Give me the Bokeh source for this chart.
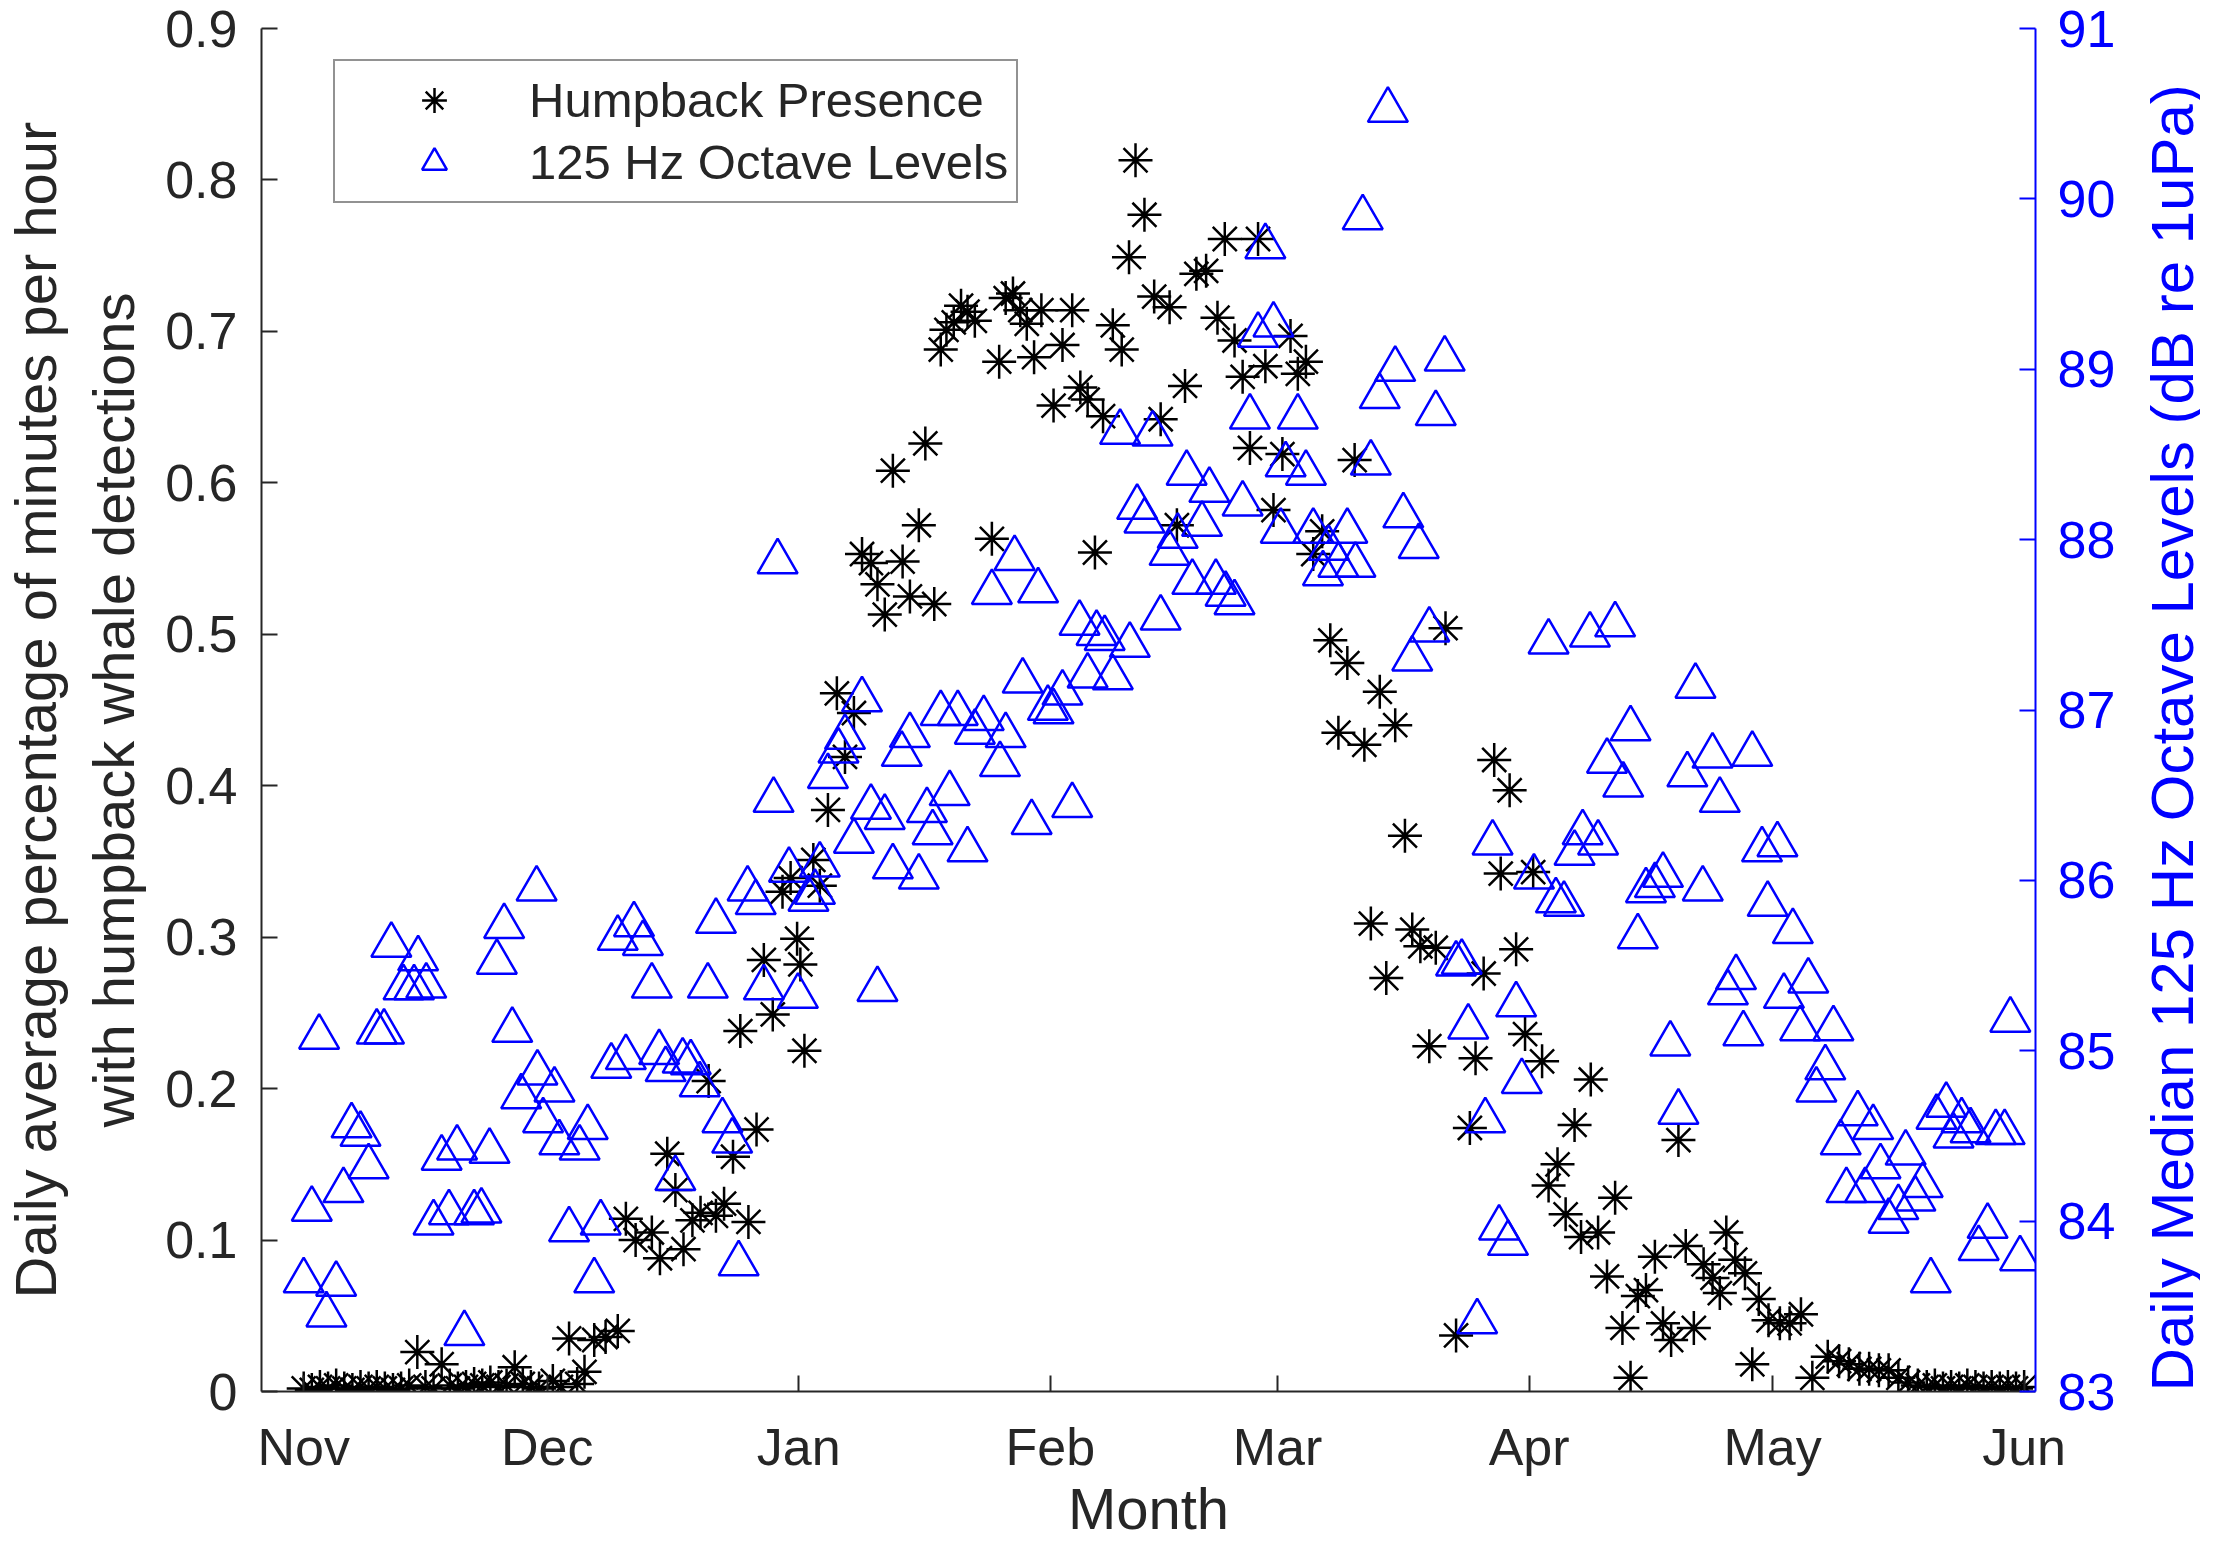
import math
from bokeh.plotting import figure
from bokeh.models import (LinearAxis, Range1d, FixedTicker, CustomJSTickFormatter,
                          Legend, LegendItem)
from bokeh.embed import file_html
from bokeh.resources import INLINE

# ---------------- data ----------------
month_ticks = [0, 30, 61, 92, 120, 151, 181, 212]          # days since 1 Nov
month_labels = ["Nov", "Dec", "Jan", "Feb", "Mar", "Apr", "May", "Jun"]
left_ticks = [0, 0.1, 0.2, 0.3, 0.4, 0.5, 0.6, 0.7, 0.8, 0.9]
right_ticks = [83, 84, 85, 86, 87, 88, 89, 90, 91]

# Humpback presence (daily average fraction of minutes per hour)
star_day = [0, 1, 2, 3, 4, 5, 6, 7, 8, 9,
            10, 11, 12, 13, 14, 15, 16, 17, 18, 19,
            20, 21, 22, 23, 24, 25, 26, 27, 28, 29,
            30.7, 31.7, 32.7, 33.7, 34.6, 35.8, 37.2, 38.7, 39.7, 40.9,
            42.9, 43.9, 44.8, 45.8, 46.8, 47.9, 48.9, 49.9, 50.8, 51.8,
            52.9, 53.8, 54.8, 55.8, 56.7, 57.8, 59.0, 60.0, 60.8, 61.2,
            61.7, 62.8, 63.6, 64.6, 65.7, 66.7, 67.8, 68.8, 69.9, 70.7,
            71.6, 72.6, 73.8, 74.7, 75.8, 76.6, 77.7, 78.5, 79.2, 80.1,
            81.0, 81.8, 82.7, 84.8, 85.7, 86.5, 87.4, 88.3, 89.1, 90.0,
            90.9, 92.4, 93.5, 94.7, 95.7, 96.6, 97.5, 98.5, 99.7, 100.8,
            101.7, 102.5, 103.6, 104.8, 105.6, 106.7, 107.6, 108.6, 110.0, 111.2,
            112.6, 113.5, 114.7, 115.7, 116.6, 117.6, 118.5, 119.5, 120.6, 121.6,
            122.5, 123.5, 124.4, 125.5, 126.5, 127.5, 128.6, 129.5, 130.7, 131.5,
            132.6, 133.4, 134.5, 135.7, 136.6, 137.6, 138.7, 139.5, 140.7, 142.0,
            143.7, 144.4, 145.4, 146.7, 147.5, 148.6, 149.4, 150.5, 151.5, 152.6,
            153.4, 154.5, 155.5, 156.6, 157.4, 158.6, 159.5, 160.6, 161.6, 162.5,
            163.5, 164.4, 165.4, 166.5, 167.5, 168.5, 169.4, 170.3, 171.3, 172.5,
            173.6, 174.5, 175.3, 176.4, 177.6, 178.5, 179.3, 180.5, 181.9, 183.1,
            184.5, 185.9, 187.8, 189.2, 190.4, 191.7, 192.9, 194.1, 195.3, 196.5,
            197.7, 198.9, 200.0, 201.0, 202.0, 203.0, 204.0, 205.0, 206.0, 207.0,
            208.0, 209.0, 210.0, 211.0, 212.0]
star_val = [0.002, 0.001, 0.003, 0.002, 0.004, 0.002, 0.001, 0.003, 0.002, 0.003,
            0.002, 0.001, 0.002, 0.004, 0.026, 0.003, 0.002, 0.018, 0.004, 0.002,
            0.003, 0.005, 0.004, 0.006, 0.003, 0.004, 0.016, 0.005, 0.003, 0.002,
            0.007, 0.003, 0.035, 0.005, 0.013, 0.034, 0.036, 0.040, 0.114, 0.100,
            0.105, 0.088, 0.157, 0.133, 0.094, 0.113, 0.118, 0.205, 0.116, 0.124,
            0.155, 0.238, 0.112, 0.173, 0.285, 0.249, 0.330, 0.339, 0.299, 0.282,
            0.225, 0.351, 0.334, 0.384, 0.461, 0.419, 0.448, 0.553, 0.547, 0.533,
            0.513, 0.608, 0.548, 0.525, 0.572, 0.626, 0.520, 0.688, 0.701, 0.706,
            0.717, 0.713, 0.707, 0.563, 0.680, 0.722, 0.725, 0.714, 0.705, 0.683,
            0.714, 0.651, 0.691, 0.714, 0.663, 0.655, 0.554, 0.644, 0.704, 0.688,
            0.749, 0.813, 0.777, 0.723, 0.642, 0.716, 0.572, 0.664, 0.738, 0.740,
            0.709, 0.761, 0.694, 0.670, 0.623, 0.761, 0.677, 0.582, 0.619, 0.697,
            0.672, 0.680, 0.553, 0.568, 0.496, 0.435, 0.481, 0.615, 0.427, 0.309,
            0.462, 0.273, 0.440, 0.367, 0.305, 0.294, 0.228, 0.293, 0.504, 0.037,
            0.174, 0.220, 0.276, 0.417, 0.342, 0.397, 0.292, 0.236, 0.343, 0.218,
            0.136, 0.150, 0.117, 0.176, 0.102, 0.206, 0.105, 0.076, 0.128, 0.042,
            0.009, 0.063, 0.067, 0.089, 0.045, 0.034, 0.166, 0.096, 0.042, 0.084,
            0.075, 0.065, 0.105, 0.087, 0.078, 0.018, 0.061, 0.047, 0.045, 0.045,
            0.051, 0.009, 0.023, 0.020, 0.018, 0.015, 0.015, 0.014, 0.014, 0.009,
            0.006, 0.004, 0.003, 0.004, 0.002, 0.003, 0.002, 0.004, 0.003, 0.002,
            0.003, 0.002, 0.003, 0.002, 0.003]

# 125 Hz octave band daily median level (dB re 1uPa)
tri_day = [0.0, 1.0, 1.9, 2.8, 4.0, 4.9, 5.9, 7.0, 8.0, 9.0,
           9.9, 10.8, 12.3, 13.6, 14.1, 15.1, 16.0, 17.0, 17.9, 18.9,
           19.8, 21.0, 21.9, 22.9, 23.8, 24.7, 25.7, 26.8, 28.7, 28.8,
           29.5, 30.9, 31.5, 32.7, 34.0, 35.0, 35.8, 36.6, 37.9, 38.7,
           39.7, 40.7, 41.8, 42.9, 43.8, 44.6, 45.8, 46.7, 47.7, 48.8,
           49.8, 50.8, 51.6, 52.8, 53.6, 54.7, 55.7, 56.7, 57.9, 58.4,
           59.8, 60.9, 62.2, 63.0, 63.6, 64.6, 65.9, 66.7, 67.8, 68.8,
           69.9, 70.7, 71.6, 72.6, 73.7, 74.7, 75.8, 76.8, 77.5, 78.5,
           79.6, 80.6, 81.8, 82.7, 83.8, 84.8, 85.8, 86.5, 87.6, 88.6,
           89.7, 90.5, 91.7, 92.4, 93.5, 94.7, 95.6, 96.6, 97.7, 98.7,
           99.7, 100.6, 101.8, 102.7, 103.6, 104.6, 105.6, 106.7, 107.7, 108.8,
           109.5, 110.7, 111.6, 112.4, 113.6, 114.7, 115.7, 116.6, 117.6, 118.5,
           119.5, 120.4, 121.0, 122.5, 123.5, 124.4, 125.6, 126.3, 127.5, 128.6,
           129.6, 130.5, 131.5, 132.6, 133.6, 134.5, 135.5, 136.6, 137.4, 138.7,
           139.5, 140.6, 142.0, 142.7, 143.5, 144.6, 145.6, 146.5, 147.3, 148.4,
           149.4, 150.1, 151.6, 153.4, 154.3, 155.3, 156.6, 157.6, 158.5, 159.5,
           160.6, 161.6, 162.6, 163.5, 164.4, 165.4, 166.5, 167.5, 168.4, 169.4,
           170.5, 171.5, 172.4, 173.6, 174.5, 175.5, 176.5, 177.4, 178.5, 179.7,
           180.4, 181.6, 182.4, 183.5, 184.4, 185.4, 186.4, 187.5, 188.5, 189.4,
           190.1, 191.5, 192.4, 193.4, 194.3, 195.3, 196.5, 197.4, 198.6, 199.5,
           200.5, 201.2, 202.4, 203.3, 204.3, 205.4, 206.4, 207.5, 208.5, 209.6,
           210.3, 211.5]
tri_db = [83.65, 84.07, 85.08, 83.45, 83.63, 84.18, 84.56, 84.51, 84.32, 85.11,
          85.11, 85.62, 85.37, 85.37, 85.54, 85.38, 83.99, 84.37, 84.05, 84.43,
          83.34, 84.05, 84.06, 84.41, 85.52, 85.73, 85.12, 84.73, 85.95, 84.87,
          84.59, 84.77, 84.46, 83.95, 84.43, 84.55, 83.65, 83.99, 84.91, 85.66,
          84.96, 85.74, 85.63, 85.38, 84.99, 84.89, 84.25, 84.94, 84.93, 84.80,
          85.38, 85.76, 84.59, 84.47, 83.75, 85.95, 85.87, 85.37, 86.47, 87.87,
          86.06, 85.32, 85.89, 85.93, 86.09, 86.61, 86.76, 86.84, 86.23, 87.06,
          86.43, 85.36, 86.37, 86.08, 86.74, 86.85, 86.02, 86.41, 86.28, 86.98,
          86.51, 86.98, 86.18, 86.87, 86.95, 87.69, 86.68, 86.85, 87.89, 87.17,
          86.34, 87.70, 87.01, 86.99, 87.10, 86.44, 87.51, 87.20, 87.45, 87.42,
          87.19, 88.63, 87.38, 88.19, 88.11, 88.62, 87.54, 87.92, 88.02, 88.39,
          87.75, 88.09, 88.29, 87.75, 87.68, 87.63, 88.21, 88.72, 89.20, 89.72,
          89.26, 88.05, 88.44, 88.72, 88.39, 88.05, 87.80, 87.95, 87.85, 88.05,
          87.85, 89.89, 88.45, 88.84, 90.52, 89.00, 88.14, 87.30, 87.96, 87.47,
          88.74, 89.06, 85.51, 85.52, 85.14, 83.41, 84.59, 86.22, 83.96, 83.87,
          85.27, 84.82, 86.02, 87.40, 85.88, 85.86, 86.16, 86.28, 87.44, 86.22,
          86.70, 87.50, 86.56, 86.89, 85.67, 85.94, 85.97, 86.03, 85.04, 84.64,
          86.62, 87.14, 85.95, 86.73, 86.47, 85.34, 85.43, 85.10, 86.74, 86.18,
          85.86, 86.21, 85.32, 85.70, 85.13, 85.41, 84.77, 84.90, 85.13, 84.46,
          84.18, 84.63, 84.18, 84.55, 84.32, 84.00, 84.08, 84.40, 84.13, 84.21,
          83.65, 84.61, 84.68, 84.50, 84.59, 84.53, 83.84, 83.97, 84.52, 84.52,
          85.18, 83.78]

assert len(star_day) == len(star_val)
assert len(tri_day) == len(tri_db)

# ---------------- styling ----------------
FONT = "Liberation Sans"
DARK = "#262626"
BLUE = "#0000FF"
TICK_FS = "52px"
LABEL_FS = "58px"

p = figure(width=2200, height=1540,
           x_range=Range1d(-5.2, 213.4), y_range=Range1d(0, 0.9),
           output_backend="svg", toolbar_location=None,
           min_border_left=253, min_border_right=165,
           min_border_top=28, min_border_bottom=149)
p.extra_y_ranges = {"db": Range1d(83, 91)}
p.xgrid.visible = False
p.ygrid.visible = False
p.outline_line_color = None
p.background_fill_color = "white"
p.border_fill_color = "white"

def style_axis(ax, color):
    ax.axis_line_color = color
    ax.axis_line_width = 2
    ax.major_tick_line_color = color
    ax.major_tick_line_width = 2
    ax.major_tick_in = 16
    ax.major_tick_out = 0
    ax.minor_tick_in = 0
    ax.minor_tick_out = 0
    ax.minor_tick_line_color = None
    ax.major_label_text_font = FONT
    ax.major_label_text_font_size = TICK_FS
    ax.major_label_text_color = color
    ax.axis_label_text_font = FONT
    ax.axis_label_text_font_size = LABEL_FS
    ax.axis_label_text_font_style = "normal"
    ax.axis_label_text_color = color

xa = p.xaxis[0]
style_axis(xa, DARK)
xa.ticker = FixedTicker(ticks=month_ticks)
xa.major_label_overrides = dict(zip(month_ticks, month_labels))
xa.major_label_standoff = 26
# trailing empty line + negative line height keeps the reserved label band compact
xa.axis_label = "Month\n"
xa.axis_label_text_line_height = -1.0
xa.axis_label_standoff = -3

ya = p.yaxis[0]
style_axis(ya, DARK)
ya.ticker = FixedTicker(ticks=left_ticks)
ya.formatter = CustomJSTickFormatter(code="return String(Math.round(tick*10)/10);")
ya.major_label_standoff = 24
ya.axis_label = "Daily average percentage of minutes per hour\nwith humpback whale detections"
ya.axis_label_standoff = 16

ra = LinearAxis(y_range_name="db", ticker=FixedTicker(ticks=right_ticks))
style_axis(ra, BLUE)
ra.major_label_standoff = 22
ra.axis_label = "Daily Median 125 Hz Octave Levels (dB re 1uPa)\n"
ra.axis_label_text_font_size = "60px"
ra.axis_label_text_line_height = -1.0
ra.axis_label_standoff = 21
ra.axis_label_orientation = math.pi / 2
ra.axis_label_align = "start"
p.add_layout(ra, "right")

r_star = p.scatter(star_day, star_val, marker="asterisk", size=34,
                   line_color="black", line_width=2.5)
r_tri = p.scatter(tri_day, tri_db, marker="triangle", size=40, y_range_name="db",
                  fill_color=None, line_color=BLUE, line_width=2.5)

legend = Legend(items=[LegendItem(label="Humpback Presence", renderers=[r_star]),
                       LegendItem(label="125 Hz Octave Levels", renderers=[r_tri])],
                location=(72, 1188), orientation="vertical",
                label_text_font=FONT, label_text_font_size="49px",
                label_text_color=DARK,
                glyph_width=182, glyph_height=62, label_height=62,
                label_standoff=4, padding=8, spacing=0, margin=0,
                border_line_color=DARK, border_line_width=2,
                background_fill_color="white", background_fill_alpha=1.0)
p.add_layout(legend)

open("out.html", "w").write(file_html(p, INLINE))
